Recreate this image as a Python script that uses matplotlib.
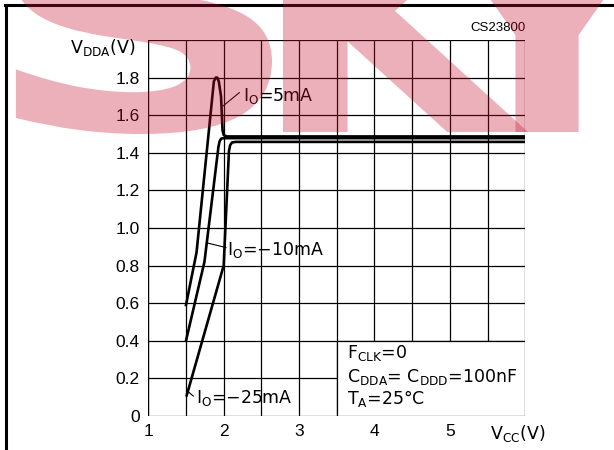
import matplotlib
matplotlib.use('Agg')
import matplotlib.pyplot as plt
from matplotlib.lines import Line2D
from matplotlib.patches import Rectangle, PathPatch
from matplotlib.textpath import TextPath
from matplotlib.font_manager import FontProperties
from matplotlib.transforms import Affine2D

plt.rcParams['font.family'] = ['Liberation Sans', 'DejaVu Sans']
plt.rcParams['mathtext.fontset'] = 'custom'
plt.rcParams['mathtext.rm'] = 'DejaVu Sans'

# curve data (Vcc in V, Vdda in V)
vcc_5ma = [1.5, 1.64, 1.87, 1.895, 1.915, 1.935, 1.965, 1.985, 2.0, 2.04, 6.0]
vdda_5ma = [0.59, 0.87, 1.78, 1.80, 1.80, 1.78, 1.70, 1.52, 1.495, 1.487, 1.487]

vcc_10ma = [1.5, 1.745, 1.93, 1.945, 1.965, 2.0, 6.0]
vdda_10ma = [0.40, 0.82, 1.43, 1.46, 1.475, 1.478, 1.478]

vcc_25ma = [1.51, 2.0, 2.07, 2.085, 2.11, 2.16, 6.0]
vdda_25ma = [0.11, 0.80, 1.41, 1.44, 1.455, 1.458, 1.458]

x_ticks = [1, 2, 3, 4, 5]
y_ticks = [0, 0.2, 0.4, 0.6, 0.8, 1.0, 1.2, 1.4, 1.6, 1.8]
y_labels = ['0', '0.2', '0.4', '0.6', '0.8', '1.0', '1.2', '1.4', '1.6', '1.8']

W, H = 614, 450
fig = plt.figure(figsize=(W / 100, H / 100), dpi=100)
ax = fig.add_axes([0.2415, 0.0756, 0.614, 0.8355])
ax.set_xlim(1, 6)
ax.set_ylim(0, 2.0)

# grid every 0.5 V / 0.2 V
for gx in [1 + 0.5 * i for i in range(11)]:
    ax.axvline(gx, color='black', lw=0.9, zorder=1)
for gy in [0.2 * i for i in range(11)]:
    ax.axhline(gy, color='black', lw=0.9, zorder=1)

for s in ax.spines.values():
    s.set_visible(False)
ax.axvline(1, color='black', lw=1.6, zorder=2)

ax.set_xticks(x_ticks)
ax.set_xticklabels([str(v) for v in x_ticks])
ax.set_yticks(y_ticks)
ax.set_yticklabels(y_labels)
ax.tick_params(length=0, labelsize=12.5, pad=6)

# conditions box
ax.add_patch(Rectangle((3.5, 0), 2.5, 0.4, facecolor='white', edgecolor='black',
                       lw=0.9, zorder=3))

lw = 1.9
ax.plot(vcc_5ma, vdda_5ma, color='black', lw=lw, zorder=4, solid_joinstyle='round')
ax.plot(vcc_10ma, vdda_10ma, color='black', lw=lw, zorder=4, solid_joinstyle='round')
ax.plot(vcc_25ma, vdda_25ma, color='black', lw=lw, zorder=4, solid_joinstyle='round')

fs = 12.5
lab = dict(fontsize=fs, va='baseline', zorder=5, family='DejaVu Sans')
# labels with leader lines
ax.plot([1.995, 2.207], [1.65, 1.72], color='black', lw=0.8, zorder=4)
ax.text(2.26, 1.677, r'I$_\mathregular{O}$=5mA', **lab)
ax.plot([1.796, 2.03], [0.919, 0.896], color='black', lw=0.8, zorder=4)
ax.text(2.05, 0.856, 'I$_\\mathregular{O}$=\u221210mA', **lab)
ax.plot([1.53, 1.597], [0.129, 0.106], color='black', lw=0.8, zorder=4)
ax.text(1.633, 0.071, 'I$_\\mathregular{O}$=\u221225mA', **lab)

ax.text(3.63, 0.307, r'F$_\mathregular{CLK}$=0', **lab)
ax.text(3.63, 0.182, r'C$_\mathregular{DDA}$= C$_\mathregular{DDD}$=100nF', **lab)
ax.text(3.63, 0.064, r'T$_\mathregular{A}$=25°C', **lab)

# axis titles in place of the last tick labels
ax.text(5.9, -0.092, r'V$_\mathregular{CC}$(V)', fontsize=fs, ha='center', va='center',
        family='DejaVu Sans')
ax.text(-0.035, 1.96, r'V$_\mathregular{DDA}$(V)', fontsize=fs, ha='right', va='center',
        family='DejaVu Sans', transform=ax.get_yaxis_transform())
ax.text(6.0, 2.03, 'CS23800', fontsize=9.5, ha='right', va='bottom')

# page frame (left and top edges only)
fig.add_artist(Line2D([0.0105, 0.0105], [0, 0.989], color='black', lw=2.2,
                      transform=fig.transFigure))
fig.add_artist(Line2D([0.0085, 1.0], [0.989, 0.989], color='black', lw=2.2,
                      transform=fig.transFigure))

# watermark letters, each fitted into a pixel box (left, right, top, bottom)
wm_letters = ['S', 'K', 'Y']
wm_boxes = [(13, 272, -98, 134), (283, 528, -98, 132), (422, 672, -98, 132)]
wm_font = FontProperties(family='DejaVu Sans', weight='bold')
for ch, (x0, x1, y0, y1) in zip(wm_letters, wm_boxes):
    tp = TextPath((0, 0), ch, size=1, prop=wm_font)
    ext = tp.get_extents()
    sx = (x1 - x0) / W / ext.width
    sy = (y1 - y0) / H / ext.height
    tr = (Affine2D().translate(-ext.x0, -ext.y0).scale(sx, sy)
          .translate(x0 / W, 1 - y1 / H) + fig.transFigure)
    fig.add_artist(PathPatch(tp, transform=tr, facecolor='#c8102e', edgecolor='none',
                             alpha=0.33, zorder=10))

fig.savefig('out.png', dpi=100)
